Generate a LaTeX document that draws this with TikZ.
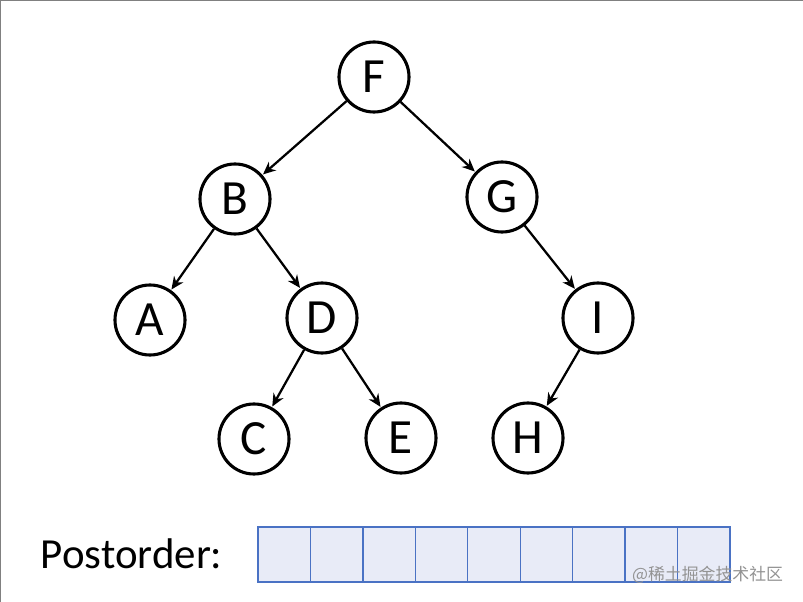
\documentclass[tikz,border=0pt]{standalone}
\usepackage{fontspec}
\setmainfont{Carlito}
\newfontfamily\cjkfont{Noto Sans CJK SC}
\usetikzlibrary{arrows.meta}
\definecolor{cellfill}{RGB}{232,235,247}
\definecolor{celldraw}{RGB}{74,114,196}
\tikzset{
	treenode/.style={circle, draw, line width=2.2pt, minimum size=1.75cm, inner sep=0pt, font=\fontsize{35}{40}\selectfont},
	treeedge/.style={-{Stealth[length=9pt,width=8pt]}, line width=1.6pt, shorten >=0.5pt}
}
\begin{document}
\begin{tikzpicture}[x=0.025cm, y=-0.025cm]
			\useasboundingbox (0,0) rectangle (803,602);
			\fill[white] (0,0) rectangle (803,602);
			\draw[gray, line width=1pt] (0,602) -- (0,0.5) -- (803,0.5);
			
			%tree
			\node[treenode] (F) at (374, 77){F};
			\node[treenode] (B) at (235, 199){B};
			\node[treenode] (G) at (502, 197){G};
			\node[treenode] (A) at (150, 320){A};
			\node[treenode] (D) at (322, 318){D};
			\node[treenode] (I) at (598, 318){I};
			\node[treenode] (C) at (254, 439){C};
			\node[treenode] (E) at (401, 438){E};
			\node[treenode] (H) at (528, 438){H};
			
			\foreach \a/\b in {F/B, F/G, B/A, B/D, G/I, D/C, D/E, I/H}{
				\draw[treeedge] (\a) -- (\b);
			}
			
			%postorder array
			\node[anchor=west, font=\fontsize{30.5}{35}\selectfont] (label) at (36, 554){Postorder:};
			\foreach \i in {0, 1, ..., 8}{
				\draw[fill=cellfill, draw=celldraw, line width=1pt] (258+\i*52.44, 527) rectangle (258+\i*52.44+52.44, 582);
			}
			\node[anchor=east, text=gray!85, font=\cjkfont\fontsize{12}{14}\selectfont] (mark) at (788, 575){@稀土掘金技术社区};
		\end{tikzpicture}
\end{document}
